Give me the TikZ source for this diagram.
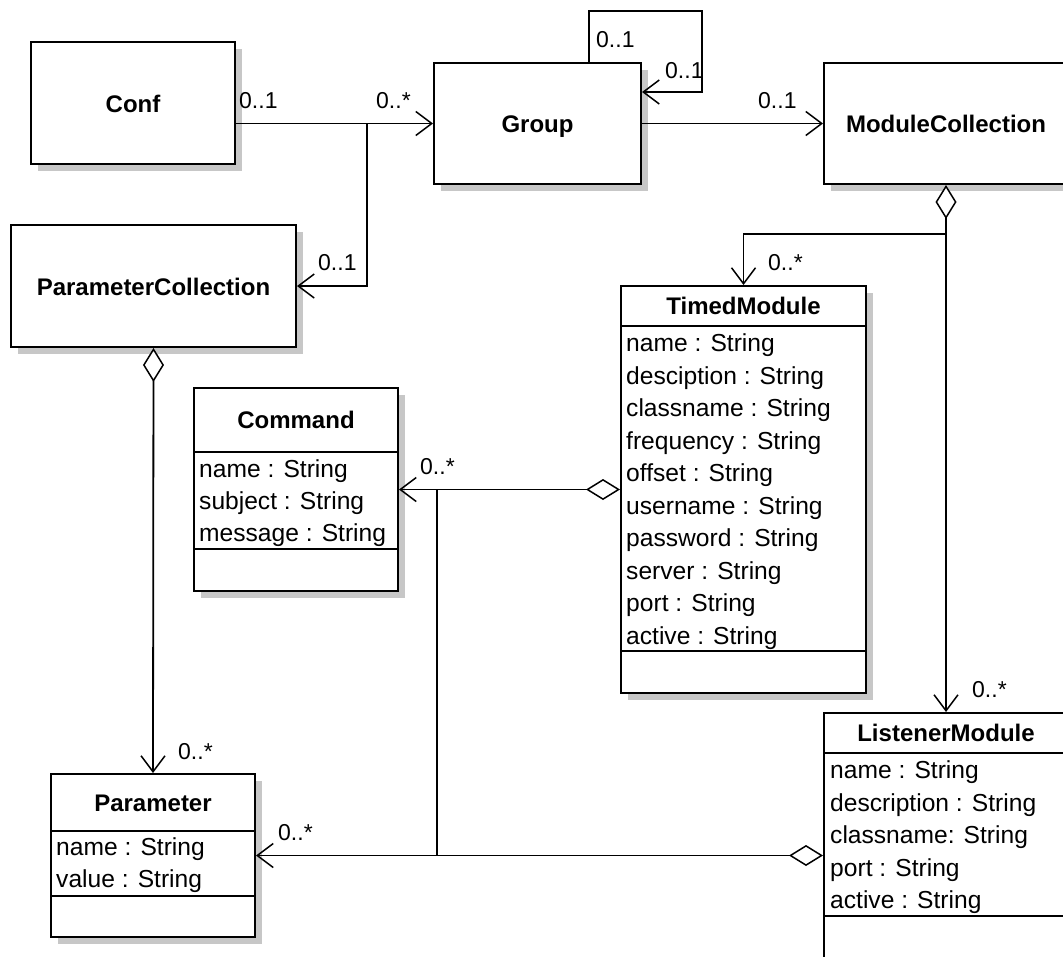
\documentclass[tikz,border=0pt]{standalone}
\usepackage{fontspec}
\setmainfont{Liberation Sans}
\usetikzlibrary{arrows.meta,shadows,calc}
\begin{document}
\begin{tikzpicture}[x=1pt,y=-1pt,
  box/.style={draw=black, line width=2pt, fill=white, rectangle, inner sep=0pt, anchor=north west,
    drop shadow={shadow xshift=7pt, shadow yshift=-7pt, fill=black!22, draw=none, opacity=1}},
  title/.style={font=\fontsize{24}{28}\selectfont\bfseries, anchor=base, inner sep=0pt},
  attr/.style={font=\fontsize{24.6}{28}\selectfont, anchor=base west, inner sep=0pt},
  mult/.style={font=\fontsize{23}{27}\selectfont, anchor=west, inner sep=0pt},
  conn/.style={draw=black, line width=1.8pt},
  assoc/.style={conn, -{Straight Barb[length=16pt,width=24pt,line width=1.5pt]}},
  aggassoc/.style={conn, {Diamond[open,fill=white,length=34pt,width=21pt,line width=1.5pt]}-{Straight Barb[length=16pt,width=24pt,line width=1.5pt]}},
  sepline/.style={draw=black, line width=2pt}
]
\path[use as bounding box] (0,0) rectangle (1063,956);
\clip (0,0) rectangle (1063,956);

% plain boxes
\node[box, minimum width=204pt, minimum height=122pt] (conf)  at (30,41)  {};
\node[box, minimum width=285pt, minimum height=122pt] (pc)    at (10,224) {};
\node[box, minimum width=207pt, minimum height=121pt] (group) at (433,62) {};
\node[box, minimum width=244pt, minimum height=121pt] (mc)    at (823,62) {};
\node[title] at ($(conf.center)+(0,9)$)  {Conf};
\node[title] at ($(pc.center)+(0,9)$)    {ParameterCollection};
\node[title] at ($(group.center)+(0,9)$) {Group};
\node[title] at ($(mc.center)+(0,9)$)    {ModuleCollection};

% class boxes with compartments
\node[box, minimum width=245pt, minimum height=407pt] (tm)    at (620,285) {};
\node[box, minimum width=204pt, minimum height=203pt] (cmd)   at (193,387) {};
\node[box, minimum width=204pt, minimum height=163pt] (param) at (50,773)  {};
\node[box, minimum width=244pt, minimum height=253pt] (lm)    at (823,712) {};

% TimedModule
\node[title] at ($(tm.north)+(0,29.5)$) {TimedModule};
\draw[sepline] ($(tm.north west)+(0,41)$) -- ($(tm.north east)+(0,41)$);
\draw[sepline] ($(tm.north west)+(0,366)$) -- ($(tm.north east)+(0,366)$);
\foreach \t [count=\i from 0] in {name : String, desciption : String, classname : String,
    frequency : String, offset : String, username : String, password : String,
    server : String, port : String, active : String}
  \node[attr] at ($(tm.north west)+(6,66.5+32.5*\i)$) {\t};

% Command
\node[title] at ($(cmd.north)+(0,41.5)$) {Command};
\draw[sepline] ($(cmd.north west)+(0,65)$) -- ($(cmd.north east)+(0,65)$);
\draw[sepline] ($(cmd.north west)+(0,162)$) -- ($(cmd.north east)+(0,162)$);
\foreach \t [count=\i from 0] in {name : String, subject : String, message : String}
  \node[attr] at ($(cmd.north west)+(6,90.5+32*\i)$) {\t};

% Parameter
\node[title] at ($(param.north)+(0,38)$) {Parameter};
\draw[sepline] ($(param.north west)+(0,58)$) -- ($(param.north east)+(0,58)$);
\draw[sepline] ($(param.north west)+(0,123)$) -- ($(param.north east)+(0,123)$);
\foreach \t [count=\i from 0] in {name : String, value : String}
  \node[attr] at ($(param.north west)+(6,82+32.5*\i)$) {\t};

% ListenerModule
\node[title] at ($(lm.north)+(0,29.5)$) {ListenerModule};
\draw[sepline] ($(lm.north west)+(0,41)$) -- ($(lm.north east)+(0,41)$);
\draw[sepline] ($(lm.north west)+(0,204)$) -- ($(lm.north east)+(0,204)$);
\foreach \t [count=\i from 0] in {name : String, description : String, classname: String,
    port : String, active : String}
  \node[attr] at ($(lm.north west)+(7,66.5+32.5*\i)$) {\t};

% connectors
\coordinate (j1) at (367,123);
\coordinate (loopA) at (589,11);
\coordinate (loopB) at (702,92);
\coordinate (j2) at (946,234);
\coordinate (j3) at (437,489);

\draw[assoc] (group.west -| conf.east) -- (group.west);
\draw[assoc] (j1) |- (pc.east);
\draw[assoc] (loopA |- group.north) -- (loopA) -| (loopB) -- (loopB -| group.east);
\draw[assoc] (group.east) -- (mc.west);
\draw[aggassoc] (j2 |- mc.south) -- (j2 |- lm.north);
\draw[assoc] (j2) -| (tm.north);
\draw[aggassoc] (cmd.east -| tm.west) -- (cmd.east);
\draw[conn] (j3) -- (j3 |- param.east);
\draw[aggassoc] (param.east -| lm.west) -- (param.east);
\draw[aggassoc] (pc.south) -- (param.north);

% multiplicities
\node[mult] (m1)  at (239,101) {0..1};
\node[mult] (m2)  at (376,101) {0..*};
\node[mult] (m3)  at (318,263) {0..1};
\node[mult] (m4)  at (596,40)  {0..1};
\node[mult] (m5)  at (665,71)  {0..1};
\node[mult] (m6)  at (758,101) {0..1};
\node[mult] (m7)  at (768,263) {0..*};
\node[mult] (m8)  at (420,467) {0..*};
\node[mult] (m9)  at (178,752) {0..*};
\node[mult] (m10) at (278,833) {0..*};
\node[mult] (m11) at (972,690) {0..*};
\end{tikzpicture}
\end{document}
